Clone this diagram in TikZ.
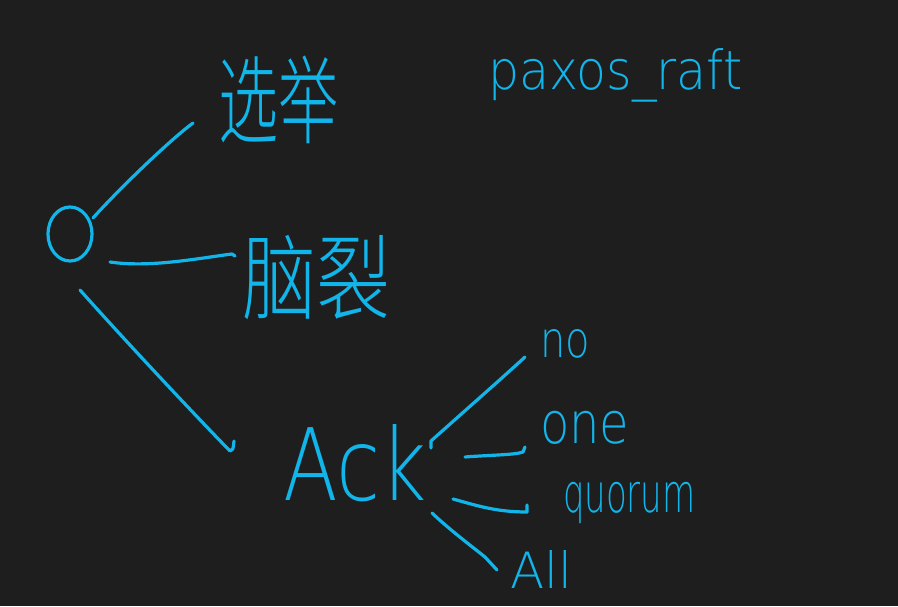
\documentclass[tikz,border=0pt]{standalone}
\usepackage{fontspec}
\usetikzlibrary{shapes.geometric}
\newfontfamily\cjk{Noto Sans CJK SC Light}
\newfontfamily\lat{DejaVu Sans ExtraLight}
\definecolor{bg}{HTML}{1E1E1E}
\definecolor{ink}{HTML}{12B5EA}
\tikzset{
  pen/.style={draw=ink, line width=3.2pt, line cap=round, line join=round},
  hand/.style={text=ink, inner sep=0pt, outer sep=0pt},
}
\begin{document}
\begin{tikzpicture}[x=1pt,y=-1pt]
\fill[bg] (0,0) rectangle (898,606);
\useasboundingbox (0,0) rectangle (898,606);

% root circle
\node[pen, ellipse, minimum width=44pt, minimum height=54pt, inner sep=0pt] (root) at (70,234) {};

% texts
\node[hand, font=\cjk\fontsize{60}{60}\selectfont, yscale=1.6] (xuanju) at (278,100) {选举};
\node[hand, font=\cjk\fontsize{74}{74}\selectfont, yscale=1.25] (naolie) at (316,278) {脑裂};
\node[hand, font=\lat\fontsize{49}{49}\selectfont, anchor=base west, yscale=1.1] (paxos) at (488,89) {paxos\_raft};
\node[hand, font=\lat\fontsize{100}{100}\selectfont, anchor=base west, xscale=0.8] (ack) at (283,500) {Ack};
\node[hand, font=\lat\fontsize{40}{40}\selectfont, anchor=base west, yscale=1.25] (no) at (540,357) {no};
\node[hand, font=\lat\fontsize{48}{48}\selectfont, anchor=base west, yscale=1.2] (one) at (540,443) {one};
\node[hand, font=\lat\fontsize{40}{40}\selectfont, anchor=base west, xscale=0.85, yscale=1.35] (quorum) at (563,512) {quorum};
\node[hand, font=\lat\fontsize{50}{50}\selectfont, anchor=base west] (all) at (510,588) {All};

% connector ends
\coordinate (r1) at (93,218);
\coordinate (r2) at (110,262);
\coordinate (r3) at (80,290);
\coordinate (t1) at (193,123);
\coordinate (t2) at (232,254);
\coordinate (t3) at (230,451);
\coordinate (a1) at (431,448);
\coordinate (a2) at (465,457);
\coordinate (a3) at (453,499);
\coordinate (a4) at (432,513);
\coordinate (e1) at (525,357);
\coordinate (e2) at (523,452);
\coordinate (e3) at (527,512);
\coordinate (e4) at (497,570);

\draw[pen] (r1) .. controls (120,188) and (170,140) .. (t1);
\draw[pen] (r2) .. controls (150,268) and (200,258) .. (t2) -- ++(3,2);
\draw[pen] (r3) .. controls (120,335) and (190,410) .. (t3) .. controls (233,450) .. ++(4,-10);

\draw[pen] (a1) -- ++(0,-7) .. controls (460,415) and (500,380) .. (e1);
\draw[pen] (a2) .. controls (490,455) and (515,455) .. (e2) -- ++(2,-5);
\draw[pen] (a3) .. controls (475,505) and (495,512) .. (e3) -- ++(0,-7);
\draw[pen] (a4) .. controls (450,530) and (470,545) .. (485,557) -- (e4);
\end{tikzpicture}
\end{document}
